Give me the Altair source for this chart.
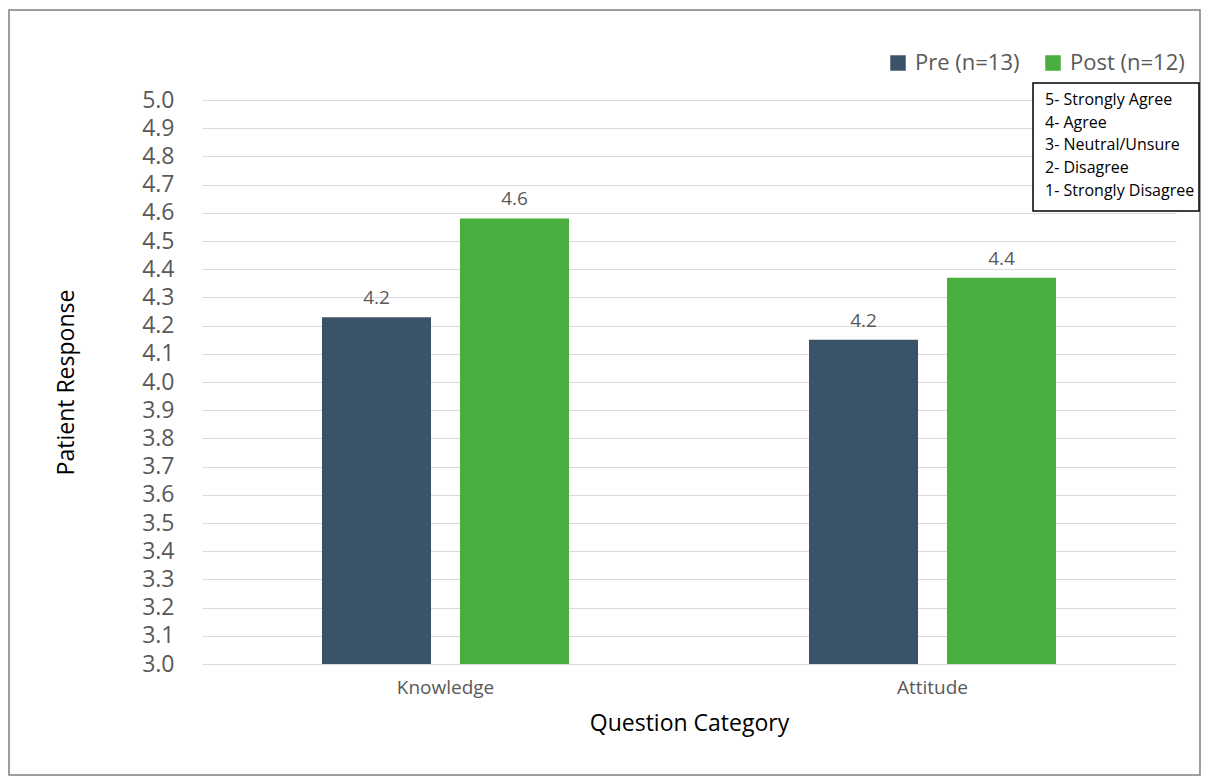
import altair as alt
import pandas as pd

categories = ["Knowledge", "Attitude"]
groups = ["Pre (n=13)", "Post (n=12)"]
pre_values = [4.23, 4.15]
post_values = [4.58, 4.37]
colors = ["#3B5369", "#48AE3E"]
y_ticks = [round(3.0 + 0.1 * i, 1) for i in range(21)]
scale_lines = ["5- Strongly Agree", "4- Agree", "3- Neutral/Unsure", "2- Disagree", "1- Strongly Disagree"]

rows = []
for c, p, q in zip(categories, pre_values, post_values):
    rows.append({"category": c, "group": groups[0], "value": p})
    rows.append({"category": c, "group": groups[1], "value": q})
df = pd.DataFrame(rows)

FONT = "Open Sans"
W, H = 974, 564

x_enc = alt.X("category:N", sort=categories,
              scale=alt.Scale(paddingInner=0.4928, paddingOuter=0.2464),
              axis=alt.Axis(title="Question Category", labelAngle=0, labelFontSize=19,
                            labelColor="#595959", labelPadding=14, ticks=False, domain=False,
                            titleFontSize=23, titleFontWeight="normal", titleColor="#000000",
                            titlePadding=15, labelFont=FONT, titleFont=FONT))
xo_enc = alt.XOffset("group:N", sort=groups, scale=alt.Scale(paddingInner=0.21, paddingOuter=0))
y_enc = alt.Y("value:Q", scale=alt.Scale(domain=[3, 5], zero=False, nice=False, clamp=True),
              axis=alt.Axis(title="Patient Response", values=y_ticks, format=".1f",
                            labelOverlap=False,
                            labelFontSize=23, labelColor="#595959", labelPadding=28,
                            ticks=False, domain=False, gridColor="#D9D9D9", gridWidth=1.2,
                            titleFontSize=23, titleFontWeight="normal", titleColor="#000000",
                            titlePadding=63, labelFont=FONT, titleFont=FONT))

base = alt.Chart(df)

bars = base.mark_bar(clip=True).encode(
    x=x_enc, xOffset=xo_enc, y=y_enc,
    color=alt.Color("group:N", sort=groups,
                    scale=alt.Scale(domain=groups, range=colors),
                    legend=alt.Legend(title=None, orient="none", direction="horizontal",
                                      legendX=685, legendY=-48, symbolType="square",
                                      symbolSize=240, symbolStrokeWidth=0,
                                      labelFontSize=22, labelColor="#595959", labelFont=FONT,
                                      columnPadding=22, labelOffset=6)),
)

labels = base.mark_text(baseline="alphabetic", dy=-13, fontSize=19, color="#595959", font=FONT).encode(
    x=x_enc, xOffset=xo_enc,
    y=y_enc, text=alt.Text("value:Q", format=".1f"),
)

box_df = pd.DataFrame({"t": ["\n".join(scale_lines)]})
box = alt.Chart(box_df).mark_rect(fill="white", stroke="#000000", strokeWidth=1.5, clip=False).encode(
    x=alt.value(831), x2=alt.value(997), y=alt.value(-17), y2=alt.value(111)
)
box_text = alt.Chart(box_df).mark_text(align="left", baseline="top", lineBreak="\n", lineHeight=22.7,
                                       fontSize=16, color="#000000", font=FONT).encode(
    x=alt.value(843), y=alt.value(-8), text="t:N"
)
border = alt.Chart(box_df).mark_rect(fill=None, stroke="#7F7F7F", strokeWidth=1.5, clip=False).encode(
    x=alt.value(-193), x2=alt.value(998), y=alt.value(-90), y2=alt.value(675)
)

chart = alt.layer(border, bars, labels, box, box_text).properties(
    width=W, height=H,
    autosize=alt.AutoSizeParams(type="none"),
    padding={"left": 202, "top": 100, "right": 30, "bottom": 113},
).configure(font=FONT).configure_view(stroke=None)

chart.save("out.html", embed_options={"renderer": "svg", "actions": False})
